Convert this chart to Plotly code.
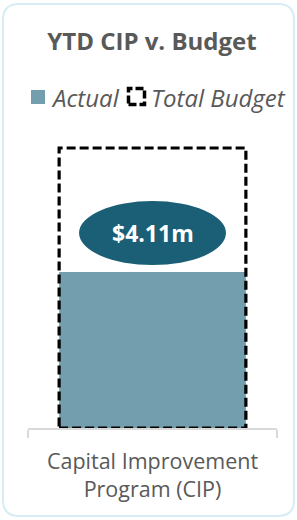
import plotly.graph_objects as go

# ---- data ----
categories = ["Capital Improvement<br>Program (CIP)"]
actual_values = [4.11]      # $ millions, year to date
budget_values = [7.38]      # $ millions, total budget
title_text = "YTD CIP v. Budget"
legend_labels = ["Actual", "Total Budget"]

# ---- layout constants ----
W, H = 297, 520
L, R, T, B = 28, 20, 140, 92
PW, PH = W - L - R, H - T - B
FONT = "Open Sans"
GRAY = "#595959"
BAR_COLOR = "#729eae"
PILL_COLOR = "#1a5f75"
BAR_WIDTH = 0.75


def px(xp):
    return (xp - L) / PW


def py(yp):
    return (H - B - yp) / PH


fig = go.Figure()
fig.add_trace(go.Bar(
    x=categories, y=actual_values, width=BAR_WIDTH,
    marker=dict(color=BAR_COLOR, line=dict(width=0)),
    name=legend_labels[0], showlegend=False, hoverinfo="skip",
))

shapes = []
annotations = []

# dashed budget outline (data coordinates)
for i, b in enumerate(budget_values):
    shapes.append(dict(
        type="rect", xref="x", yref="y",
        x0=i - BAR_WIDTH / 2, x1=i + BAR_WIDTH / 2, y0=0, y1=b,
        line=dict(color="black", width=3.2, dash="9px,4px"),
        fillcolor="rgba(0,0,0,0)", layer="above",
    ))

# value pill above the actual bar
for i, a in enumerate(actual_values):
    shapes.append(dict(
        type="circle", xref="x", yref="y",
        x0=i - 0.295, x1=i + 0.295,
        ysizemode="pixel", yanchor=a, y0=7, y1=71,
        fillcolor=PILL_COLOR, line=dict(width=0), layer="above",
    ))
    annotations.append(dict(
        x=i, y=a, xref="x", yref="y", yshift=39,
        text=f"<b>${a:.2f}m</b>", showarrow=False,
        font=dict(family=FONT, size=23, color="white"),
    ))

# card border with rounded corners (paper coords)
x0c, x1c, y0c, y1c, r = 3, 294, 4, 516, 16
path = (
    f"M{px(x0c + r)},{py(y0c)} L{px(x1c - r)},{py(y0c)} "
    f"Q{px(x1c)},{py(y0c)} {px(x1c)},{py(y0c + r)} "
    f"L{px(x1c)},{py(y1c - r)} "
    f"Q{px(x1c)},{py(y1c)} {px(x1c - r)},{py(y1c)} "
    f"L{px(x0c + r)},{py(y1c)} "
    f"Q{px(x0c)},{py(y1c)} {px(x0c)},{py(y1c - r)} "
    f"L{px(x0c)},{py(y0c + r)} "
    f"Q{px(x0c)},{py(y0c)} {px(x0c + r)},{py(y0c)} Z"
)
shapes.append(dict(type="path", xref="paper", yref="paper", path=path,
                   line=dict(color="#d8ecf6", width=2), layer="below"))

# custom legend
shapes.append(dict(type="rect", xref="paper", yref="paper",
                   x0=px(31), x1=px(45), y0=py(104), y1=py(90),
                   fillcolor=BAR_COLOR, line=dict(width=0)))
annotations.append(dict(x=px(49), y=py(97), xref="paper", yref="paper",
                        xanchor="left", yanchor="middle", showarrow=False,
                        text=legend_labels[0],
                        font=dict(family=FONT, size=24, color=GRAY, style="italic")))
shapes.append(dict(type="rect", xref="paper", yref="paper",
                   x0=px(128.5), x1=px(144.5), y0=py(104.5), y1=py(88.5),
                   fillcolor="rgba(0,0,0,0)",
                   line=dict(color="black", width=3.5, dash="8px,3px")))
annotations.append(dict(x=px(149), y=py(97), xref="paper", yref="paper",
                        xanchor="left", yanchor="middle", showarrow=False,
                        text=legend_labels[1],
                        font=dict(family=FONT, size=24, color=GRAY, style="italic")))

fig.update_layout(
    width=W, height=H,
    margin=dict(l=L, r=R, t=T, b=B),
    paper_bgcolor="white", plot_bgcolor="white",
    title=dict(text=f"<b>{title_text}</b>", x=(152 / W), xanchor="center",
               y=1 - 42 / H, yanchor="middle", yref="container",
               font=dict(family=FONT, size=24, color=GRAY)),
    showlegend=False,
    shapes=shapes, annotations=annotations,
    xaxis=dict(
        showline=True, linecolor="#d9d9d9", linewidth=2,
        ticks="outside", tickson="boundaries", ticklen=8,
        tickcolor="#d9d9d9", tickwidth=2, ticklabelstandoff=13,
        tickfont=dict(family=FONT, size=21.5, color=GRAY),
        showgrid=False, zeroline=False, fixedrange=True,
    ),
    yaxis=dict(visible=False, range=[0, budget_values[0] * 288 / 280],
               showgrid=False, zeroline=False, fixedrange=True),
)

fig.write_html(
    "out.html",
    config={"displayModeBar": False},
    post_script="document.body.style.margin='0';document.body.style.overflow='hidden';",
)
